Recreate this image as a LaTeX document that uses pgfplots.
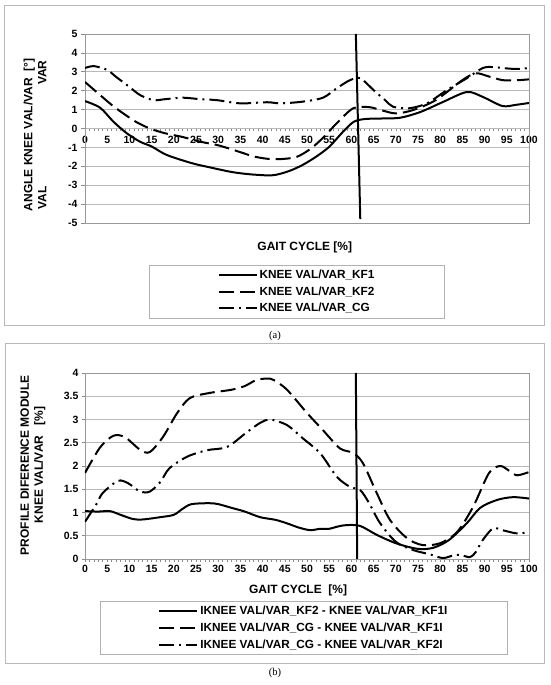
\documentclass[border=0pt]{standalone}
\usepackage{fontspec}
\setmainfont{Liberation Sans}
\newfontfamily\seriffont{Liberation Serif}
\usepackage{pgfplots}
\pgfplotsset{compat=1.18}

\pgfplotstableread{
x y
0 1.45
3.4 1.1
6.4 0.36
9.4 -0.25
12.4 -0.7
15 -0.95
18.4 -1.4
24 -1.83
28 -2.05
33 -2.3
37 -2.42
41 -2.48
43 -2.45
46 -2.25
49 -1.93
52 -1.5
55 -0.97
58 -0.2
60.5 0.35
63 0.5
67 0.53
71 0.57
75.5 0.87
80.6 1.4
86 1.93
89.6 1.67
94 1.19
97 1.25
100 1.35
}\aKFone

\pgfplotstableread{
x y
0 2.46
3.4 1.77
6 1.25
8.6 0.8
11.5 0.35
14.6 0.0
18 -0.25
22 -0.45
26 -0.7
29.7 -0.87
33 -1.1
35.6 -1.3
38 -1.48
41 -1.6
44 -1.62
47.7 -1.5
51 -1.04
54 -0.4
56.7 0.28
60.4 1.07
64 1.13
67 0.95
70 0.8
73.8 0.97
79 1.5
85 2.56
88 2.92
91 2.75
94 2.56
97 2.55
100 2.6
}\aKFtwo

\pgfplotstableread{
x y
0 3.2
2 3.3
5 3.1
7 2.73
10 2.2
12.4 1.77
15.4 1.5
18 1.55
22 1.63
26 1.55
29.7 1.5
35 1.33
41 1.39
44 1.33
49 1.42
53.6 1.63
56.7 2.13
59.7 2.56
62 2.66
65 2.03
67.6 1.5
69.4 1.15
73 1.07
77 1.33
81.5 2.03
86 2.66
89.6 3.2
92 3.25
94 3.2
97 3.15
100 3.2
}\aCG

\pgfplotstableread{
x y
0 1.03
3 1.02
5.6 1.03
8 0.95
10.8 0.86
13 0.85
17 0.9
20 0.95
22 1.08
24 1.18
28 1.2
30 1.18
33 1.1
36 1.02
39.4 0.9
43 0.84
46 0.75
48 0.68
50.7 0.62
53 0.65
55 0.65
57 0.7
59 0.73
62 0.71
65.7 0.52
70 0.34
74.8 0.22
78.4 0.24
82 0.41
86 0.77
89 1.1
92.8 1.27
96.4 1.33
100 1.3
}\bA

\pgfplotstableread{
x y
0 1.85
3.4 2.4
6.4 2.65
9 2.62
12.4 2.35
14.6 2.3
17.6 2.63
20.7 3.13
23.6 3.46
28 3.57
33 3.64
36 3.72
38.6 3.85
41 3.88
42.5 3.85
45.5 3.64
50 3.14
53.6 2.77
57.4 2.38
60.4 2.28
62.6 2.06
65.7 1.42
68.7 0.84
72.5 0.45
76 0.3
80 0.34
83.8 0.58
87.4 1.12
91 1.85
93.5 2.0
95.5 1.9
97.3 1.8
100 1.87
}\bB

\pgfplotstableread{
x y
0 0.8
2.7 1.2
4 1.42
7.4 1.68
9.7 1.63
12.4 1.45
14.6 1.45
17 1.66
19 1.95
23 2.2
27.5 2.34
32 2.41
36.5 2.73
39.5 2.93
41.7 3.0
45.5 2.88
49 2.6
53 2.27
56.7 1.77
59.7 1.55
62 1.48
64 1.2
66.4 0.78
70 0.37
74 0.19
77.7 0.1
80.6 0.02
83 0.08
84.5 0.09
86.7 0.04
88 0.15
89.6 0.41
91.9 0.66
94 0.62
97.3 0.55
100 0.58
}\bC

\pgfplotsset{
  mybase/.style={
    scale only axis, width=444pt, anchor=south west,
    xmin=0, xmax=100,
    axis line style={gray!80, line width=0.7pt},
    grid style={gray!55, line width=0.7pt},
    ymajorgrids,
    tick style={gray!90, line width=0.6pt},
    tick label style={font=\bfseries\fontsize{10.5}{12}\selectfont},
    /pgf/number format/assume math mode=true,
    label style={font=\bfseries\fontsize{12}{14}\selectfont},
    legend style={font=\bfseries\fontsize{11.8}{13}\selectfont, draw=gray!60,
      line width=0.7pt, anchor=north, row sep=3.5pt, inner ysep=3.5pt,
      nodes={inner ysep=1.5pt, inner xsep=2pt}},
    legend cell align=left,
    legend image code/.code={\draw[##1, line width=2pt] (0pt,0pt) -- (38pt,0pt);},
  },
  curve/.style={black, line width=2pt, smooth, tension=0.5, no markers},
  sA/.style={curve, solid},
  sB/.style={curve, dash pattern=on 15pt off 6pt},
  sC/.style={curve, dash pattern=on 15pt off 5pt on 2pt off 5pt},
}

\begin{document}
\begin{tikzpicture}
\useasboundingbox (0pt,0pt) rectangle (550pt,685pt);
\draw[gray!55, line width=0.9pt] (4pt,360pt) rectangle (544pt,680pt);
\draw[gray!55, line width=0.9pt] (5pt,22pt) rectangle (544pt,342pt);
\node[font=\seriffont\fontsize{10.5}{12}\selectfont] at (275pt,349.5pt) {(a)};
\node[font=\seriffont\fontsize{10.5}{12}\selectfont] at (275pt,12pt) {(b)};

% (a) x axis at y = 0 with tick labels
\begin{axis}[scale only axis, width=444pt, height=189pt, at={(85pt,462pt)}, anchor=south west,
  xmin=0, xmax=100, ymin=-5, ymax=5,
  axis x line=middle, axis y line=none, axis line style={-, gray!80, line width=0.7pt},
  xtick={0,5,...,100}, minor x tick num=4, hide obscured x ticks=false,
  xtick align=outside, major tick length=3pt, minor tick length=3pt,
  tick style={gray!90, line width=0.6pt},
  tick label style={font=\bfseries\fontsize{10.5}{12}\selectfont},
  /pgf/number format/assume math mode=true,
  xticklabel style={yshift=-1pt}]
\addplot[draw=none, forget plot] coordinates {(0,0) (100,0)};
\end{axis}

% (a) main
\begin{axis}[mybase, at={(85pt,462pt)}, height=189pt,
  ymin=-5, ymax=5, ytick={-5,...,5}, xtick=\empty,
  ytick pos=left, ytick align=outside, major tick length=4pt,
  xlabel={GAIT CYCLE [\%]},
  xlabel style={at={(axis description cs:0.495,-0.127)}, anchor=center},
  ylabel={ANGLE KNEE VAL/VAR\ \ [°]\\\makebox[149pt]{VAL\hfill VAR}},
  ylabel style={at={(axis description cs:-0.1126,0.466)}, anchor=center, align=center},
  legend style={at={(0.4775,-0.222)}, inner xsep=68pt}]
\addplot[sA] table[x=x,y=y] {\aKFone};
\addlegendentry{KNEE VAL/VAR\_KF1}
\addplot[sB] table[x=x,y=y] {\aKFtwo};
\addlegendentry{KNEE VAL/VAR\_KF2}
\addplot[sC] table[x=x,y=y] {\aCG};
\addlegendentry{KNEE VAL/VAR\_CG}
\addplot[black, line width=2pt, forget plot] coordinates {(61,5) (62,-4.8)};
\end{axis}

% (b) main
\begin{axis}[mybase, at={(85pt,126pt)}, height=186pt,
  ymin=0, ymax=4, ytick={0,0.5,...,4},
  xtick={0,5,...,100}, minor x tick num=4,
  xtick pos=bottom, ytick pos=left, tick align=outside,
  major tick length=3pt, minor tick length=3pt,
  xlabel={GAIT CYCLE\ \ [\%]},
  xlabel style={at={(axis description cs:0.48,-0.167)}, anchor=center},
  ylabel={PROFILE DIFERENCE MODULE\\KNEE VAL/VAR\ \ \ [\%]},
  ylabel style={at={(axis description cs:-0.117,0.505)}, anchor=center, align=center},
  legend style={at={(0.493,-0.226)}, inner xsep=58pt}]
\addplot[sA] table[x=x,y=y] {\bA};
\addlegendentry{IKNEE VAL/VAR\_KF2 - KNEE VAL/VAR\_KF1I}
\addplot[sB] table[x=x,y=y] {\bB};
\addlegendentry{IKNEE VAL/VAR\_CG - KNEE VAL/VAR\_KF1I}
\addplot[sC] table[x=x,y=y] {\bC};
\addlegendentry{IKNEE VAL/VAR\_CG - KNEE VAL/VAR\_KF2I}
\addplot[black, line width=2pt, forget plot] coordinates {(61,4) (61.3,0)};
\end{axis}
\end{tikzpicture}
\end{document}
